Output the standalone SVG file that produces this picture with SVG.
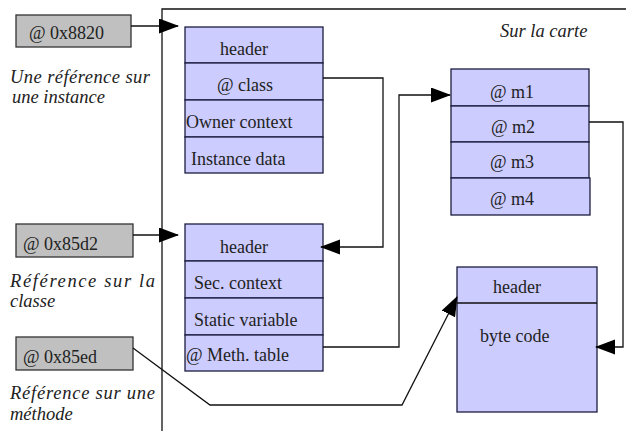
<svg xmlns="http://www.w3.org/2000/svg" width="626" height="431" viewBox="0 0 626 431">
<style>
text{font-family:"Liberation Serif","Times New Roman",serif;fill:#222;font-size:18px}
.it{font-style:italic;font-size:18.5px}
.ref{fill:#c0c0c0;stroke:#333;stroke-width:1.3}
.blk{fill:#ccccff;stroke:#1c1c40;stroke-width:1.3}
.ln{fill:none;stroke:#111;stroke-width:1.3}
</style>
<defs>
<marker id="ah" markerUnits="userSpaceOnUse" markerWidth="20" markerHeight="16" refX="19" refY="7.5" orient="auto">
<path d="M0,0 L20,7.5 L0,15 z" fill="#000"/>
</marker>
</defs>
<rect width="626" height="431" fill="#fff"/>
<g id="frame">
<path class="ln" d="M162,431 V9 H626"/>
<text class="it" x="500" y="37">Sur la carte</text>
</g>
<g id="ref-instance">
<rect class="ref" x="16" y="15" width="115" height="32"/>
<text x="29" y="39">@ 0x8820</text>
<text class="it" x="10" y="83" textLength="140" lengthAdjust="spacing">Une référence sur</text>
<text class="it" x="12" y="103">une instance</text>
</g>
<g id="ref-class">
<rect class="ref" x="16" y="224" width="117" height="33"/>
<text x="23" y="250">@ 0x85d2</text>
<text class="it" x="10" y="287" textLength="145" lengthAdjust="spacing">Référence sur la</text>
<text class="it" x="10" y="307">classe</text>
</g>
<g id="ref-method">
<rect class="ref" x="16" y="337" width="117" height="33"/>
<text x="23" y="363">@ 0x85ed</text>
<text class="it" x="10" y="399" textLength="145" lengthAdjust="spacing">Référence sur une</text>
<text class="it" x="10" y="420">méthode</text>
</g>
<g id="instance">
<rect class="blk" x="185" y="27" width="138" height="36"/>
<rect class="blk" x="185" y="63" width="138" height="37"/>
<rect class="blk" x="185" y="100" width="138" height="37"/>
<rect class="blk" x="185" y="137" width="138" height="36"/>
<text x="220" y="55">header</text>
<text x="217" y="91">@ class</text>
<text x="186" y="128">Owner context</text>
<text x="191" y="165">Instance data</text>
</g>
<g id="class">
<rect class="blk" x="185" y="224" width="138" height="37"/>
<rect class="blk" x="185" y="261" width="138" height="37"/>
<rect class="blk" x="185" y="298" width="138" height="37"/>
<rect class="blk" x="185" y="335" width="138" height="36"/>
<text x="220" y="253">header</text>
<text x="194" y="289">Sec. context</text>
<text x="194" y="326">Static variable</text>
<text x="186" y="361">@ Meth. table</text>
</g>
<g id="methods">
<rect class="blk" x="451" y="69" width="138" height="37"/>
<rect class="blk" x="451" y="106" width="138" height="36"/>
<rect class="blk" x="451" y="142" width="138" height="36"/>
<rect class="blk" x="451" y="178" width="139" height="37"/>
<text x="490" y="98">@ m1</text>
<text x="491" y="133">@ m2</text>
<text x="490" y="168">@ m3</text>
<text x="490" y="205">@ m4</text>
</g>
<g id="method">
<rect class="blk" x="457" y="267" width="140" height="145"/>
<line class="ln" x1="457" y1="303" x2="597" y2="303" stroke="#1c1c40"/>
<text x="493" y="293">header</text>
<text x="480" y="342">byte code</text>
</g>
<g id="connectors">
<path class="ln" d="M131,26 H178" marker-end="url(#ah)"/>
<path class="ln" d="M133,235 H178" marker-end="url(#ah)"/>
<path class="ln" d="M323,78 H383 V247 H321" marker-end="url(#ah)"/>
<path class="ln" d="M323,347 H399 V95 H450" marker-end="url(#ah)"/>
<path class="ln" d="M589,122 H623 V347 H596" marker-end="url(#ah)"/>
<path class="ln" d="M133,348 L210,405 H402 L457,297" marker-end="url(#ah)"/>
</g>
</svg>
